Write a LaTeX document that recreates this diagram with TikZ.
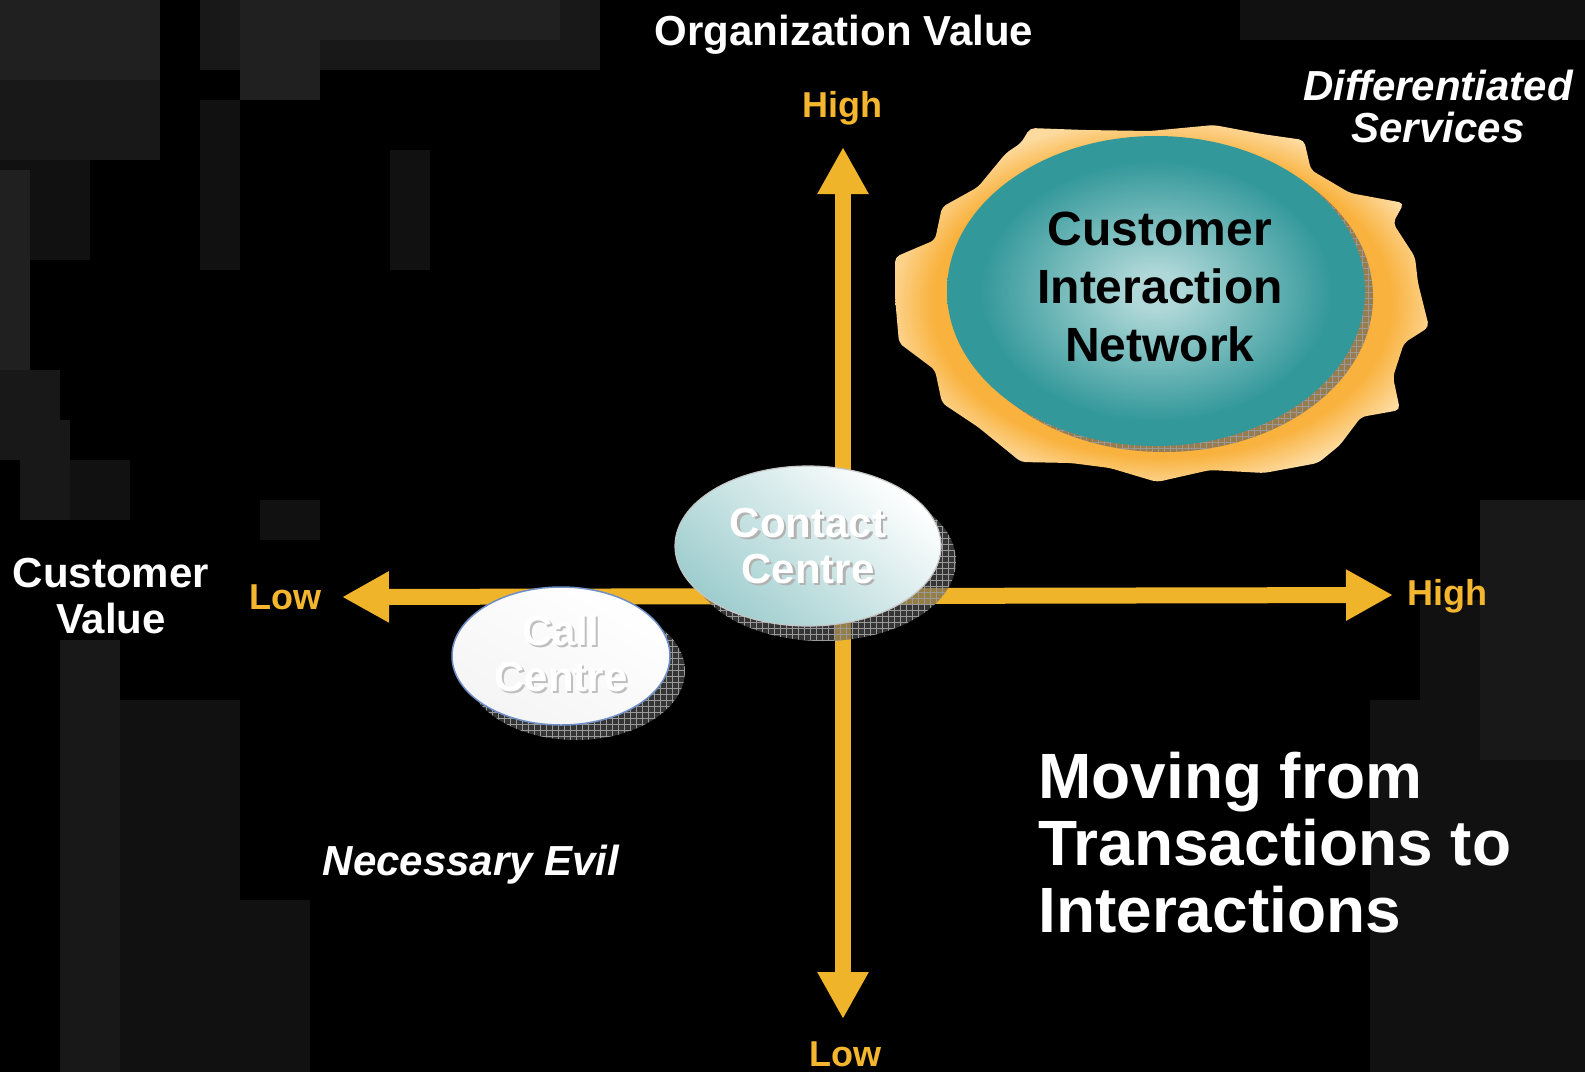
\documentclass[tikz,border=0pt]{standalone}
\usepackage{fontspec}
\setmainfont{Liberation Sans}
\usetikzlibrary{arrows.meta,shapes.geometric,patterns.meta}

\definecolor{axisgold}{HTML}{EFB42A}
\definecolor{labelgold}{HTML}{F3B62E}
\definecolor{glowcore}{HTML}{F9B23E}
\definecolor{glowedge}{HTML}{FDDA9E}
\definecolor{tealdeep}{HTML}{33989A}
\definecolor{teallight}{HTML}{B0D8D8}
\definecolor{ccteal}{HTML}{9ECDCE}
\definecolor{callrim}{HTML}{6F8FC6}
\definecolor{hazeA}{HTML}{202020}
\definecolor{hazeB}{HTML}{181818}
\definecolor{hazeC}{HTML}{111111}

% orange sun-like halo: solid near the disc, pale at the rim
\pgfdeclareradialshading{sunglow}{\pgfpoint{0bp}{0bp}}{color(0bp)=(glowcore); color(21.5bp)=(glowcore); color(26bp)=(glowedge); color(50bp)=(glowedge)}
% teal disc, light in the middle
\pgfdeclareradialshading{tealdisc}{\pgfpoint{0bp}{0bp}}{color(0bp)=(teallight); color(3bp)=(teallight); color(21bp)=(tealdeep); color(50bp)=(tealdeep)}

\newcommand\fsz[2]{\fontsize{#1}{#2}\selectfont}

\tikzset{
  axisline/.style={draw=axisgold, line width=16pt,
    {Triangle[length=47pt,width=48pt]}-{Triangle[length=47pt,width=48pt]}},
  headline/.style={text=white, font=\fsz{42}{46}\bfseries, align=center, inner sep=0pt},
  goldlabel/.style={text=labelgold, font=\fsz{36}{40}\bfseries, inner sep=0pt},
  slanted/.style={text=white, font=\fsz{42}{42}\bfseries\itshape, align=center, inner sep=0pt},
  shadowfill/.style={fill=gray!70!black, fill opacity=0.6},
  shadowgrid/.style={pattern={Hatch[distance=6pt,angle=0,line width=0.7pt]}, pattern color=gray!80},
  raisedtext/.style={text=white, font=\fsz{42}{46}\bfseries, align=center, inner sep=0pt},
  sunktext/.style={text=gray!60, font=\fsz{42}{46}\bfseries, align=center, inner sep=0pt},
}

\begin{document}
\begin{tikzpicture}[x=1pt, y=-1pt]
  % canvas
  \fill[black] (0,0) rectangle (1585,1072);
  \useasboundingbox (0,0) rectangle (1585,1072);

  % faint dark backdrop patches
  \fill[hazeA] (0,0) rectangle (160,80);
  \fill[hazeB] (0,80) rectangle (160,160);
  \fill[hazeB] (200,0) rectangle (600,70);
  \fill[hazeA] (240,0) rectangle (320,100);
  \fill[hazeA] (320,0) rectangle (560,40);
  \fill[hazeC] (0,160) rectangle (90,260);
  \fill[hazeA] (0,170) rectangle (30,370);
  \fill[hazeB] (0,370) rectangle (60,460);
  \fill[hazeC] (60,460) rectangle (130,520);
  \fill[hazeB] (20,420) rectangle (70,520);
  \fill[hazeC] (200,100) rectangle (240,270);
  \fill[hazeC] (390,150) rectangle (430,270);
  \fill[hazeC] (260,500) rectangle (320,540);
  \fill[hazeB] (60,640) rectangle (120,1072);
  \fill[hazeC] (120,700) rectangle (240,1072);
  \fill[hazeC] (240,900) rectangle (310,1072);
  \fill[hazeC] (1240,0) rectangle (1585,40);
  \fill[hazeC] (1420,600) rectangle (1585,1072);
  \fill[hazeB] (1480,500) rectangle (1585,760);
  \fill[hazeC] (1370,700) rectangle (1420,1072);

  % axis end points
  \coordinate (vtop) at (843,147);
  \coordinate (vbot) at (843,1019);
  \coordinate (hleft) at (342,597);
  \coordinate (hright) at (1393,595);

  \draw[axisline] (vbot) -- (vtop);
  \draw[axisline] (hleft) -- (hright);

  % ellipse centres
  \coordinate (cinpos) at (1156,291);
  \coordinate (ccpos) at (808,546);
  \coordinate (callpos) at (561,656);

  % halo around the network disc
  \shade[shading=sunglow, rounded corners=5pt]
    (1021,143) -- (1030,128) -- (1085,130) -- (1150,131) -- (1214,125) -- (1262,134) -- (1304,140)
    -- (1311,170) -- (1350,193) -- (1404,203) -- (1393,223) -- (1415,257) -- (1418,283)
    -- (1429,327) -- (1404,343) -- (1393,377) -- (1400,410) -- (1361,417) -- (1340,445)
    -- (1318,463) -- (1264,473) -- (1210,470) -- (1157,482) -- (1110,468) -- (1071,463)
    -- (1021,462) -- (978,427) -- (942,403) -- (935,370) -- (899,343) -- (895,297)
    -- (895,257) -- (935,240) -- (942,207) -- (978,187) -- (1006,153) -- cycle;

  % network disc
  \path[shadowfill] ([shift={(8,6)}]cinpos) ellipse [x radius=209pt, y radius=155pt];
  \path[shadowgrid] ([shift={(8,6)}]cinpos) ellipse [x radius=209pt, y radius=155pt];
  \node[ellipse, minimum width=418pt, minimum height=310pt, inner sep=0pt, shading=tealdisc] (cin) at (cinpos) {};
  \node[text=black, font=\fsz{48}{58}\bfseries, align=center, inner sep=0pt] (cin-label) at ([shift={(4,-4)}]cinpos)
    {Customer\\Interaction\\Network};

  % contact centre
  \path[shadowfill] ([shift={(15,15)}]ccpos) ellipse [x radius=133pt, y radius=80pt];
  \path[shadowgrid] ([shift={(15,15)}]ccpos) ellipse [x radius=133pt, y radius=80pt];
  \node[ellipse, minimum width=266pt, minimum height=160pt, inner sep=0pt, draw=gray!45, line width=1.2pt,
        top color=white, bottom color=ccteal, shading angle=-40] (contact) at (ccpos) {};
  \node[sunktext] (contact-shade) at ([shift={(2.5,2.5)}]ccpos) {Contact\\Centre};
  \node[raisedtext] (contact-label) at (ccpos) {Contact\\Centre};

  % call centre
  \path[shadowfill] ([shift={(15,15)}]callpos) ellipse [x radius=109pt, y radius=69pt];
  \path[shadowgrid] ([shift={(15,15)}]callpos) ellipse [x radius=109pt, y radius=69pt];
  \node[ellipse, minimum width=218pt, minimum height=138pt, inner sep=0pt, draw=callrim, line width=1.5pt,
        top color=white, bottom color=gray!8, shading angle=-30] (call) at (callpos) {};
  \node[sunktext, text=gray!50] (call-shade) at ([shift={(2,-1)}]callpos) {Call\\Centre};
  \node[raisedtext] (call-label) at ([shift={(0,-3)}]callpos) {Call\\Centre};

  % axis captions
  \node[headline] (orgvalue) at (844,35) {Organization Value};
  \node[headline] (custvalue) at (111,596) {Customer\\Value};
  \node[goldlabel] (vhigh) at (842,108) {High};
  \node[goldlabel] (vlow) at (845,1054) {Low};
  \node[goldlabel] (hlow) at (285,597) {Low};
  \node[goldlabel] (hhigh) at (1447,596) {High};

  % quadrant captions
  \node[slanted] (diffserv) at (1438,106) {Differentiated\\Services};
  \node[slanted] (necevil) at (471,865) {Necessary Evil};
  \node[text=white, font=\fsz{64}{67}\bfseries, align=left, inner sep=0pt, anchor=west] (moving) at (1038,843)
    {Moving from\\Transactions to\\Interactions};
\end{tikzpicture}
\end{document}
